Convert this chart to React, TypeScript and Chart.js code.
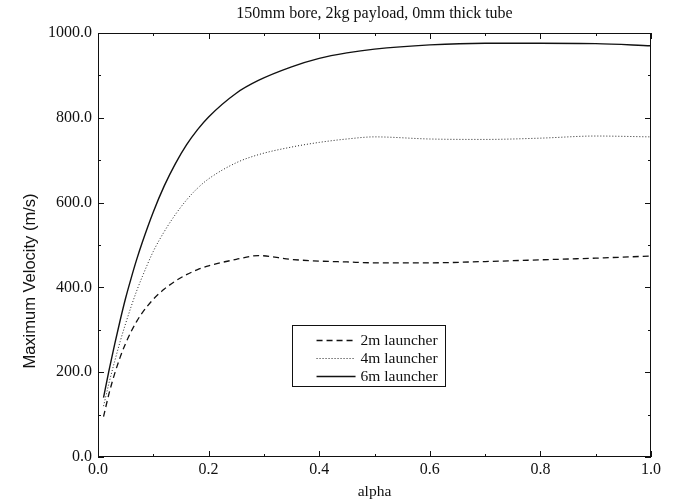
import React, { useEffect, useRef } from "react";
import { Chart, registerables } from "chart.js";

Chart.register(...registerables);

const TITLE = "150mm bore, 2kg payload, 0mm thick tube";
const X_TITLE = "alpha";
const Y_TITLE = "Maximum Velocity (m/s)";

const alpha = [0.01, 0.02, 0.03, 0.04, 0.05, 0.06, 0.07, 0.08, 0.10, 0.12, 0.14, 0.16, 0.18, 0.20, 0.25, 0.29, 0.35, 0.40, 0.45, 0.50, 0.60, 0.70, 0.80, 0.90, 1.0];
const v2m = [95, 150, 196, 235, 268, 296, 320, 340, 372, 396, 415, 430, 442, 451, 466, 475, 466, 462, 460, 458, 458, 461, 465, 469, 474];
const v4m = [120, 175, 225, 272, 315, 355, 392, 425, 485, 532, 572, 606, 634, 656, 694, 713, 731, 742, 750, 755, 750, 749, 752, 757, 755];
const v6m = [140, 205, 265, 322, 375, 422, 466, 506, 578, 640, 692, 736, 772, 802, 858, 888, 920, 940, 953, 962, 972, 976, 976, 975, 970];

const seriesLabels = ["2m launcher", "4m launcher", "6m launcher"];
const xTicks = [0, 0.2, 0.4, 0.6, 0.8, 1.0];
const yTicks = [0, 200, 400, 600, 800, 1000];

const SERIF = "'Liberation Serif', 'Times New Roman', serif";
const SANS = "'Liberation Sans', Arial, sans-serif";

const framePlugin = {
  id: "frameTicks",
  afterDraw(chart: any) {
    const { ctx, chartArea: a, scales } = chart;
    const xs = scales.x;
    const ys = scales.y;
    ctx.save();
    ctx.strokeStyle = "#111";
    ctx.lineWidth = 1;
    ctx.strokeRect(a.left + 0.5, a.top + 0.5, a.right - a.left - 1, a.bottom - a.top - 1);
    const drawX = (v: number, len: number) => {
      const p = Math.round(xs.getPixelForValue(v)) + 0.5;
      ctx.beginPath();
      ctx.moveTo(p, a.bottom);
      ctx.lineTo(p, a.bottom - len);
      ctx.moveTo(p, a.top);
      ctx.lineTo(p, a.top + len);
      ctx.stroke();
    };
    const drawY = (v: number, len: number) => {
      const p = Math.round(ys.getPixelForValue(v)) + 0.5;
      ctx.beginPath();
      ctx.moveTo(a.left, p);
      ctx.lineTo(a.left + len, p);
      ctx.moveTo(a.right, p);
      ctx.lineTo(a.right - len, p);
      ctx.stroke();
    };
    for (let i = 0; i < xTicks.length; i++) {
      drawX(xTicks[i], 6);
      if (i < xTicks.length - 1) drawX((xTicks[i] + xTicks[i + 1]) / 2, 3);
    }
    for (let i = 0; i < yTicks.length; i++) {
      drawY(yTicks[i], 6);
      if (i < yTicks.length - 1) drawY((yTicks[i] + yTicks[i + 1]) / 2, 3);
    }

    // titles
    ctx.fillStyle = "#111";
    ctx.textAlign = "center";
    ctx.textBaseline = "middle";
    ctx.font = `16px ${SERIF}`;
    ctx.fillText(TITLE, (a.left + a.right) / 2, a.top - 19);
    ctx.font = `15.5px ${SERIF}`;
    ctx.fillText(X_TITLE, (a.left + a.right) / 2, a.bottom + 35);
    ctx.save();
    ctx.translate(a.left - 68, ys.getPixelForValue(415));
    ctx.rotate(-Math.PI / 2);
    ctx.font = `16.5px ${SANS}`;
    ctx.fillText(Y_TITLE, 0, 0);
    ctx.restore();

    // legend
    const ds = chart.data.datasets;
    const bx = xs.getPixelForValue(0.35);
    const rowH = 18;
    const by = ys.getPixelForValue(312);
    const bw = 153;
    const bh = rowH * ds.length + 7;
    ctx.fillStyle = "#fff";
    ctx.fillRect(bx, by, bw, bh);
    ctx.strokeStyle = "#111";
    ctx.lineWidth = 1;
    ctx.strokeRect(Math.round(bx) + 0.5, Math.round(by) + 0.5, bw, bh);
    ctx.font = `15.5px ${SERIF}`;
    ctx.textAlign = "left";
    ds.forEach((d: any, i: number) => {
      const cy = Math.round(by + 6 + rowH * i + rowH / 2) + 0.5;
      ctx.save();
      ctx.strokeStyle = d.borderColor;
      ctx.lineWidth = d.borderWidth;
      ctx.setLineDash(d.borderDash || []);
      ctx.beginPath();
      ctx.moveTo(bx + 25, cy);
      ctx.lineTo(bx + 64, cy);
      ctx.stroke();
      ctx.restore();
      ctx.fillStyle = "#111";
      ctx.fillText(d.label, bx + 69, cy);
    });
    ctx.restore();
  },
};

export default function App() {
  const ref = useRef<HTMLCanvasElement>(null);
  useEffect(() => {
    document.body.style.margin = "0";
    const canvas = ref.current!;
    const mk = (vals: number[]) => alpha.map((x, i) => ({ x, y: vals[i] }));
    const chart = new Chart(canvas, {
      type: "line",
      data: {
        datasets: [
          { label: seriesLabels[0], data: mk(v2m), borderColor: "#111", borderWidth: 1.3, borderDash: [6, 4], pointRadius: 0, cubicInterpolationMode: "monotone", fill: false },
          { label: seriesLabels[1], data: mk(v4m), borderColor: "#222", borderWidth: 1, borderDash: [1, 2], pointRadius: 0, cubicInterpolationMode: "monotone", fill: false },
          { label: seriesLabels[2], data: mk(v6m), borderColor: "#111", borderWidth: 1.4, borderDash: [], pointRadius: 0, cubicInterpolationMode: "monotone", fill: false },
        ],
      },
      options: {
        responsive: false,
        animation: false,
        layout: { padding: { top: 33, right: 27, bottom: 0, left: 0 } },
        plugins: { legend: { display: false }, title: { display: false }, tooltip: { enabled: false } },
        scales: {
          x: {
            type: "linear",
            min: 0,
            max: 1,
            afterFit: (s: any) => { s.height = 45; },
            afterBuildTicks: (s: any) => { s.ticks = xTicks.map((v) => ({ value: v })); },
            grid: { display: false, drawTicks: false },
            border: { display: false },
            ticks: { padding: 3, color: "#111", font: { family: SERIF, size: 16 }, maxRotation: 0, callback: (v: any) => Number(v).toFixed(1) },
          },
          y: {
            type: "linear",
            min: 0,
            max: 1000,
            afterFit: (s: any) => { s.width = 98; },
            afterBuildTicks: (s: any) => { s.ticks = yTicks.map((v) => ({ value: v })); },
            grid: { display: false, drawTicks: false },
            border: { display: false },
            ticks: { padding: 6, color: "#111", font: { family: SERIF, size: 16 }, callback: (v: any) => Number(v).toFixed(1) },
          },
        },
      },
      plugins: [framePlugin],
    } as any);
    return () => chart.destroy();
  }, []);
  return (
    <div style={{ width: 678, height: 502, background: "#fff" }}>
      <canvas ref={ref} width={678} height={502} style={{ display: "block" }} />
    </div>
  );
}
